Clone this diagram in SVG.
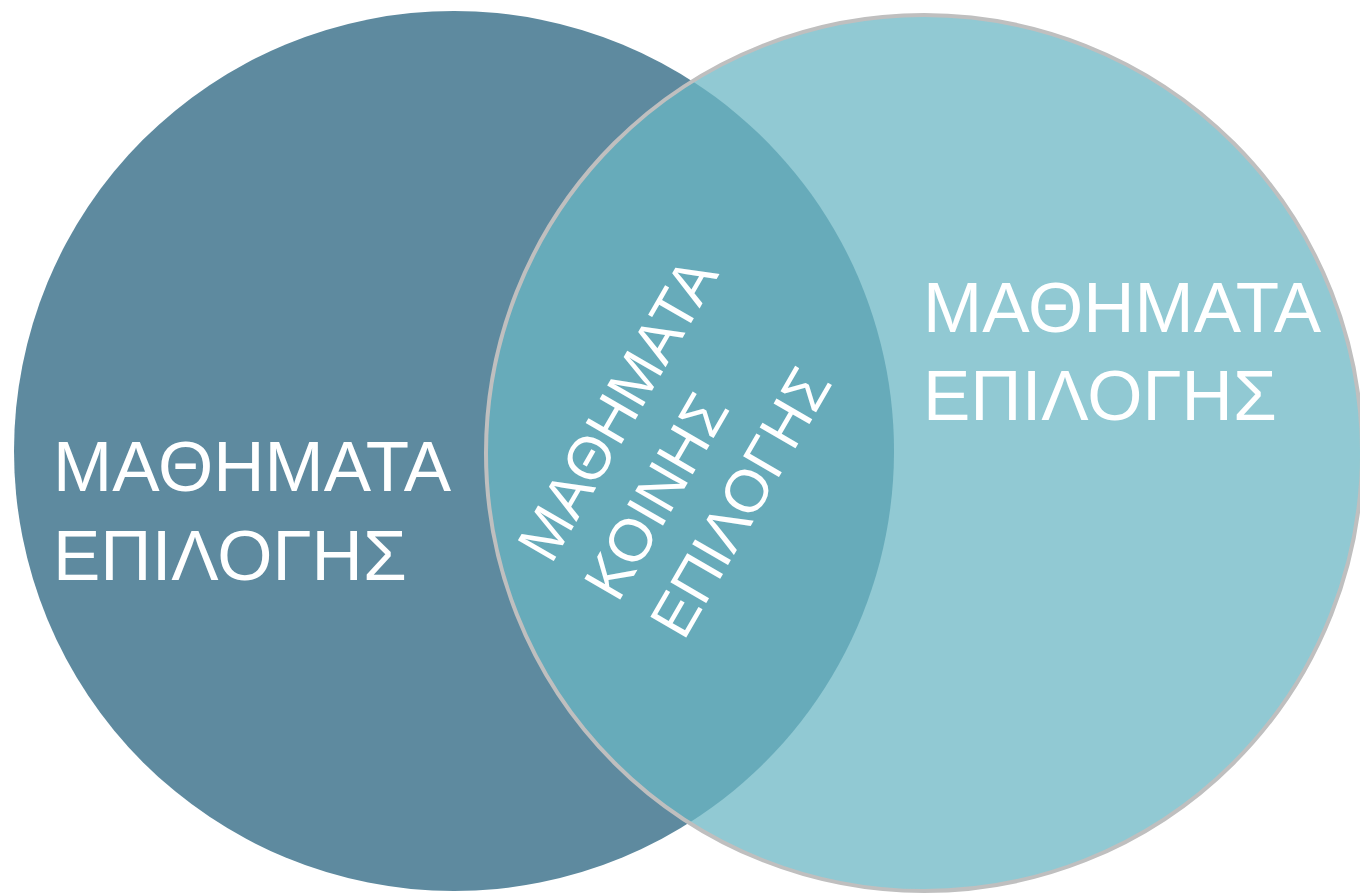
<svg xmlns="http://www.w3.org/2000/svg" width="1360" height="896" viewBox="0 0 1360 896">
  <style>
    .lbl { font-family: "Liberation Sans", Arial, sans-serif; fill: #ffffff; }
    .big { font-size: 71px; }
    .mid { font-size: 60px; }
  </style>
  <rect x="0" y="0" width="1360" height="896" fill="#ffffff"/>
  <g id="left-circle">
    <circle cx="454" cy="451" r="440" fill="#5e8a9f"/>
  </g>
  <g id="right-circle">
    <circle cx="924" cy="453" r="438" fill="#91c9d3"/>
  </g>
  <g id="intersection">
    <path d="M 692.45 81.2 A 440 440 0 0 1 689.3 822.8 A 438 438 0 0 1 692.45 81.2 Z" fill="#67abba"/>
  </g>
  <g id="right-circle-outline">
    <circle cx="924" cy="453" r="438" fill="none" stroke="#bfbfbf" stroke-width="4"/>
  </g>
  <g id="connectors"/>
  <g id="left-label">
    <text class="lbl big" x="53" y="491">ΜΑΘΗΜΑΤΑ</text>
    <text class="lbl big" x="53" y="580">ΕΠΙΛΟΓΗΣ</text>
  </g>
  <g id="right-label">
    <text class="lbl big" x="923" y="332">ΜΑΘΗΜΑΤΑ</text>
    <text class="lbl big" x="923" y="420">ΕΠΙΛΟΓΗΣ</text>
  </g>
  <g id="middle-label" transform="rotate(-60)">
    <text class="lbl mid" x="-214" y="760">ΜΑΘΗΜΑΤΑ</text>
    <text class="lbl mid" x="-214" y="837">ΚΟΙΝΗΣ</text>
    <text class="lbl mid" x="-214" y="913">ΕΠΙΛΟΓΗΣ</text>
  </g>
</svg>
